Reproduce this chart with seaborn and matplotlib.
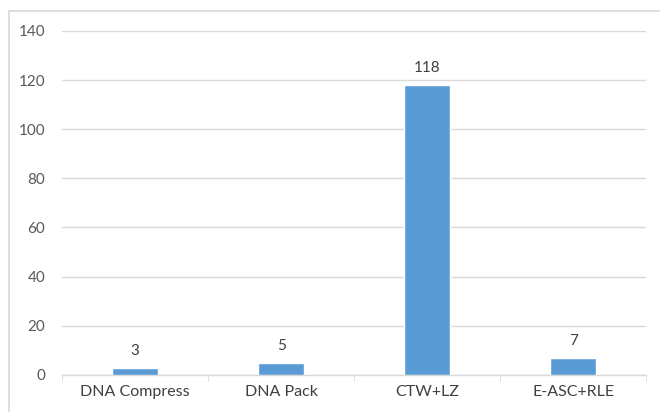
import matplotlib
matplotlib.use('Agg')
import matplotlib.pyplot as plt
from matplotlib.patches import Rectangle
import seaborn as sns
import pandas as pd

methods = ['DNA Compress', 'DNA Pack', 'CTW+LZ', 'E-ASC+RLE']
values = [3, 5, 118, 7]
yticks = [0, 20, 40, 60, 80, 100, 120, 140]

sns.set_style('white')
plt.rcParams['font.family'] = ['Lato', 'DejaVu Sans']

df = pd.DataFrame({'method': methods, 'value': values})

fig = plt.figure(figsize=(6.6, 4.12), dpi=100)
ax = fig.add_axes([0.094, 0.09, 0.885, 0.835])

# chart border (cropped on right and bottom in the original)
fig.patches.append(Rectangle((9 / 660, -0.1), 1.2, 1 - 11.5 / 412 + 0.1,
                             transform=fig.transFigure, fill=False,
                             edgecolor='#D9D9D9', linewidth=1.2))

sns.barplot(data=df, x='method', y='value', color='#5B9BD5', width=0.31,
            saturation=1, ax=ax, zorder=3)

for i, v in enumerate(values):
    ax.text(i, v + 4, str(v), ha='center', va='bottom', fontsize=11, color='#404040')

ax.set_ylim(0, 140)
ax.set_yticks(yticks)
ax.set_xlim(-0.5, 3.5)
ax.yaxis.grid(True, color='#D9D9D9', linewidth=1, zorder=0)
ax.set_axisbelow(True)
for s in ['top', 'right', 'left']:
    ax.spines[s].set_visible(False)
ax.spines['bottom'].set_color('#D9D9D9')
ax.spines['bottom'].set_linewidth(1)
ax.set_xlabel('')
ax.set_ylabel('')
ax.tick_params(axis='y', length=0, labelsize=11, labelcolor='#595959', pad=12)
ax.tick_params(axis='x', length=0, labelsize=11.5, labelcolor='#404040', pad=7)
# category boundary ticks
ax.set_xticks([-0.5, 0.5, 1.5, 2.5, 3.5], minor=True)
ax.tick_params(axis='x', which='minor', length=4, color='#D9D9D9', bottom=True)

plt.savefig('out.png', dpi=100)
